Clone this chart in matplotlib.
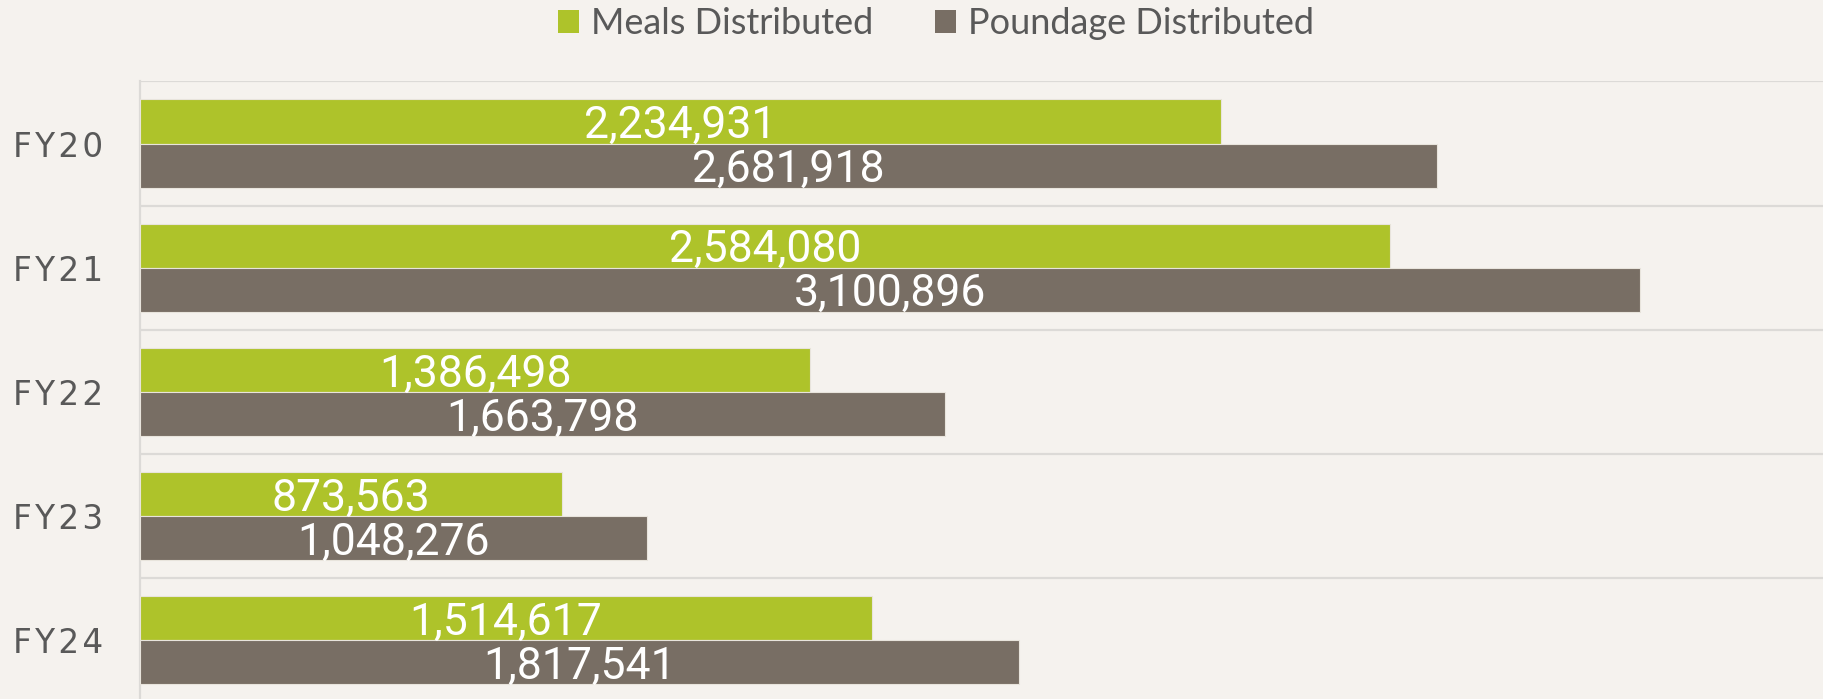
import matplotlib
matplotlib.use("Agg")
import matplotlib.pyplot as plt
import numpy as np
from matplotlib.patches import Patch

years = ["FY20", "FY21", "FY22", "FY23", "FY24"]
meals = [2234931, 2584080, 1386498, 873563, 1514617]
pounds = [2681918, 3100896, 1663798, 1048276, 1817541]
series_names = ["Meals Distributed", "Poundage Distributed"]

GREEN = "#aec32a"
BROWN = "#786e64"
BG = "#f5f2ee"
GRID = "#dcdad7"
TEXT = "#595959"

fig = plt.figure(figsize=(18.24, 6.99), dpi=100, facecolor=BG)
ax = fig.add_axes([0.0765, -0.005, 0.9235, 0.8885])
ax.set_facecolor(BG)

y = np.arange(len(years))
h = 0.355
b1 = ax.barh(y - h / 2, meals, height=h, color=GREEN, edgecolor="#e8e4dc", linewidth=0.8, zorder=3)
b2 = ax.barh(y + h / 2, pounds, height=h, color=BROWN, edgecolor="#e8e4dc", linewidth=0.8, zorder=3)

lab_font = dict(family=["Roboto", "DejaVu Sans"], size=32, color="white")
for bars, vals in ((b1, meals), (b2, pounds)):
    for bar, v in zip(bars, vals):
        ax.text(v / 2, bar.get_y() + bar.get_height() / 2, f"{v:,}",
                ha="center", va="center_baseline", zorder=4, **lab_font)

# separators between the year groups
for k in range(len(years) + 1):
    ax.axhline(k - 0.5, color=GRID, lw=1.6, zorder=1)

ax.set_xlim(0, 3481000)
ax.set_ylim(len(years) - 0.5, -0.5)
ax.set_xticks([])
ax.set_yticks(y)
# spaced-out year labels
ax.set_yticklabels(["\u200a".join(s) for s in years], family=["DejaVu Sans"], size=23.5, color=TEXT)
ax.tick_params(axis="y", length=0, pad=26)
for s in ("top", "right", "bottom"):
    ax.spines[s].set_visible(False)
ax.spines["left"].set_color(GRID)
ax.spines["left"].set_linewidth(1.6)

handles = [Patch(facecolor=GREEN), Patch(facecolor=BROWN)]
fig.legend(handles, series_names, loc="center", bbox_to_anchor=(0.513, 0.966), ncol=2,
           frameon=False, handlelength=0.6, handleheight=0.6, handletextpad=0.32,
           columnspacing=1.7, prop={"family": ["Lato", "DejaVu Sans"], "size": 26},
           labelcolor=TEXT)

fig.savefig("out.png", dpi=100, facecolor=BG)
